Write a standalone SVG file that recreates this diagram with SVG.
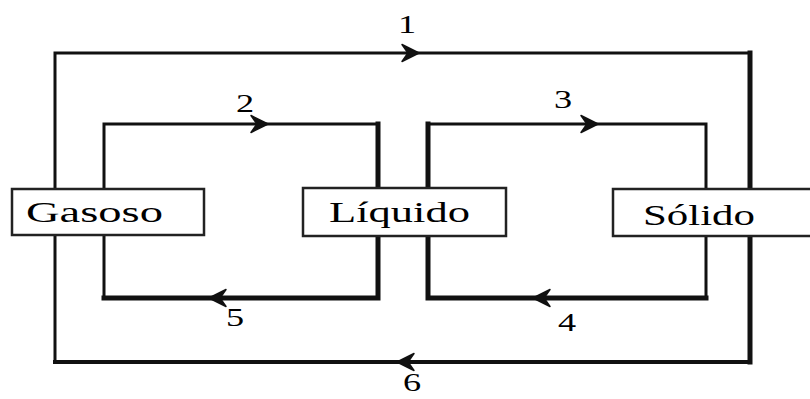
<svg xmlns="http://www.w3.org/2000/svg" width="810" height="399" viewBox="0 0 810 399">
<style>
.ln{fill:none;stroke:#111;stroke-linecap:square}
.t3{stroke-width:3}
.t5{stroke-width:5}
.box{fill:#fff;stroke:#222;stroke-width:2.5}
.lbl{font-family:"Liberation Serif","Times New Roman",serif;font-size:30px;fill:#000}
.num{font-family:"Liberation Serif","Times New Roman",serif;font-size:25px;fill:#000;text-anchor:middle}
</style>
<defs>
<path id="ah" d="M0,0 L-17,-8.5 L-11,0 L-17,8.5 Z" fill="#111" stroke="#111" stroke-width="1.5" stroke-linejoin="round"/>
</defs>
<g id="connectors">
<path class="ln t3" d="M55,362 L55,53 L750,53"/>
<path class="ln t5" d="M750,53 L750,362"/>
<path class="ln" stroke-width="4" d="M55,362 L750,362"/>
<use href="#ah" transform="translate(419,53)"/>
<use href="#ah" transform="translate(397,362) rotate(180)"/>
<path class="ln t3" d="M104,298 L104,124 L378,124"/>
<path class="ln t5" d="M378,124 L378,298 L104,298"/>
<use href="#ah" transform="translate(268,124)"/>
<use href="#ah" transform="translate(209,298) rotate(180)"/>
<path class="ln t3" d="M428,124 L706,124 L706,298"/>
<path class="ln t5" d="M428,124 L428,298 L706,298"/>
<use href="#ah" transform="translate(598,124)"/>
<use href="#ah" transform="translate(533,298) rotate(180)"/>
</g>
<g id="labels">
<text class="num" transform="translate(407,33) scale(1.45,1)">1</text>
<text class="num" transform="translate(245,112) scale(1.45,1)">2</text>
<text class="num" transform="translate(563,108) scale(1.45,1)">3</text>
<text class="num" transform="translate(567,331) scale(1.45,1)">4</text>
<text class="num" transform="translate(235,326) scale(1.45,1)">5</text>
<text class="num" transform="translate(412,391) scale(1.45,1)">6</text>
</g>
<g id="node-gasoso">
<rect class="box" x="12" y="189" width="192" height="46"/>
<text class="lbl" x="26" y="222" textLength="137" lengthAdjust="spacingAndGlyphs">Gasoso</text>
</g>
<g id="node-liquido">
<rect class="box" x="303" y="188" width="203" height="48"/>
<text class="lbl" x="329" y="222" textLength="141" lengthAdjust="spacingAndGlyphs">Líquido</text>
</g>
<g id="node-solido">
<rect class="box" x="613" y="189" width="215" height="47"/>
<text class="lbl" x="643" y="225" textLength="112" lengthAdjust="spacingAndGlyphs">Sólido</text>
</g>
</svg>
